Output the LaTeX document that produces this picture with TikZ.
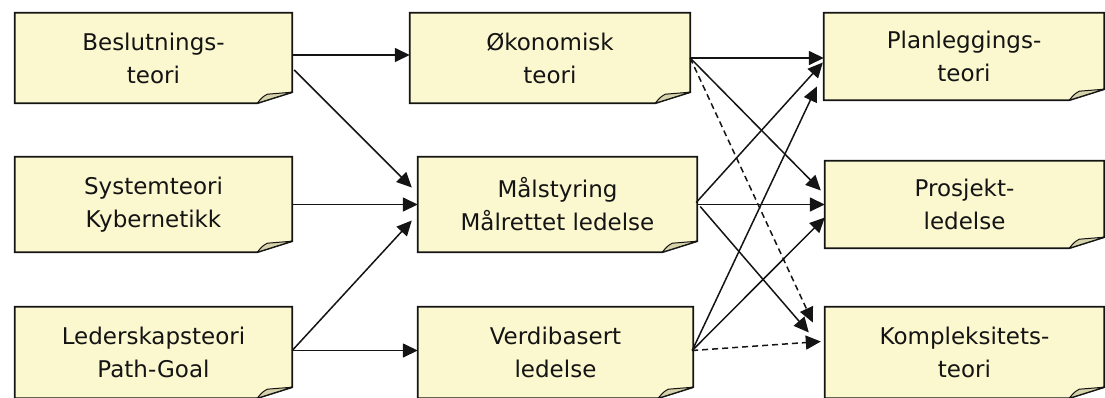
\documentclass[tikz,border=0pt]{standalone}
\usepackage{fontspec}
\setmainfont{DejaVu Sans}
\usetikzlibrary{arrows.meta,backgrounds}
\definecolor{notefill}{RGB}{251,247,206}
\definecolor{foldfill}{RGB}{214,210,170}
\definecolor{ink}{RGB}{20,20,20}

\begin{document}
\begin{tikzpicture}[x=1pt,y=-1pt,
  note/.style={inner sep=0pt, align=center, text=ink,
    font=\fontsize{23}{33}\selectfont},
  conn/.style={line width=1.5pt, draw=ink, -{Triangle[length=15pt,width=14pt]}},
  dconn/.style={conn, dash pattern=on 6pt off 4pt}]
\useasboundingbox (0,0) rectangle (1105,397);

% left column
\node[note, minimum width=277pt, minimum height=90pt] (bes) at (153.5,58) {Beslutnings-\\teori};
\node[note, minimum width=277pt, minimum height=95pt] (sys) at (153.5,204.5) {Systemteori\\Kybernetikk};
\node[note, minimum width=277pt, minimum height=91pt] (led) at (153.5,352.5) {Lederskapsteori\\Path-Goal};

% middle column
\node[note, minimum width=280pt, minimum height=90pt] (oko) at (550,58) {Økonomisk\\teori};
\node[note, minimum width=279pt, minimum height=95pt] (mal) at (557.5,204.5) {Målstyring\\Målrettet ledelse};
\node[note, minimum width=275pt, minimum height=91pt] (ver) at (555.5,352.5) {Verdibasert\\ledelse};

% right column
\node[note, minimum width=280pt, minimum height=87pt] (pla) at (964,56.5) {Planleggings-\\teori};
\node[note, minimum width=279pt, minimum height=87pt] (pro) at (964.5,204.5) {Prosjekt-\\ledelse};
\node[note, minimum width=279pt, minimum height=91pt] (kom) at (964.5,352.5) {Kompleksitets-\\teori};

% sticky-note outlines with a curled bottom-right corner
\begin{scope}[on background layer]
\foreach \n in {bes,sys,led,oko,mal,ver,pla,pro,kom}{
  \filldraw[fill=notefill, draw=ink, line width=1.8pt, line join=miter]
    (\n.north west) -- (\n.north east) -- ([yshift=11pt]\n.south east)
    -- ([xshift=-35pt]\n.south east) -- (\n.south west) -- cycle;
  \filldraw[fill=foldfill, draw=ink, line width=1pt, line join=round]
    ([xshift=-35pt]\n.south east)
    .. controls ([xshift=-30pt,yshift=6pt]\n.south east) .. ([xshift=-25pt,yshift=9pt]\n.south east)
    -- ([yshift=11pt]\n.south east) -- cycle;
}
\end{scope}

% left to middle
\draw[conn] ([yshift=3pt]bes.east) -- ([yshift=3pt]oko.west);
\draw[conn] ([xshift=2pt,yshift=-12pt]bes.east) -- ([xshift=-6pt,yshift=17pt]mal.west);
\draw[conn] (sys.east) -- (mal.west);
\draw[conn] ([yshift=2pt]led.east) -- ([xshift=-6pt,yshift=-16pt]mal.west);
\draw[conn] ([yshift=2pt]led.east) -- ([yshift=2pt]ver.west);

% middle to right
\draw[conn] (oko.east) -- (oko.east -| pla.west);
\draw[conn] (oko.east) -- ([xshift=-4pt,yshift=14pt]pro.west);
\draw[dconn] (oko.east) -- ([xshift=-12pt,yshift=30pt]kom.west);
\draw[conn] ([xshift=-1pt,yshift=2pt]mal.east) -- ([xshift=-1pt,yshift=-6pt]pla.west);
\draw[conn] (mal.east) -- (pro.west);
\draw[conn] ([xshift=3pt,yshift=-2pt]mal.east) -- ([xshift=-16pt,yshift=20pt]kom.west);
\draw[conn] ([xshift=-1pt,yshift=2pt]ver.east) -- ([xshift=-7pt,yshift=-30pt]pla.west);
\draw[conn] ([xshift=-1pt,yshift=2pt]ver.east) -- ([yshift=-13pt]pro.west);
\draw[dconn] ([xshift=-1pt,yshift=2pt]ver.east) -- ([xshift=-4pt,yshift=11pt]kom.west);
\end{tikzpicture}
\end{document}
